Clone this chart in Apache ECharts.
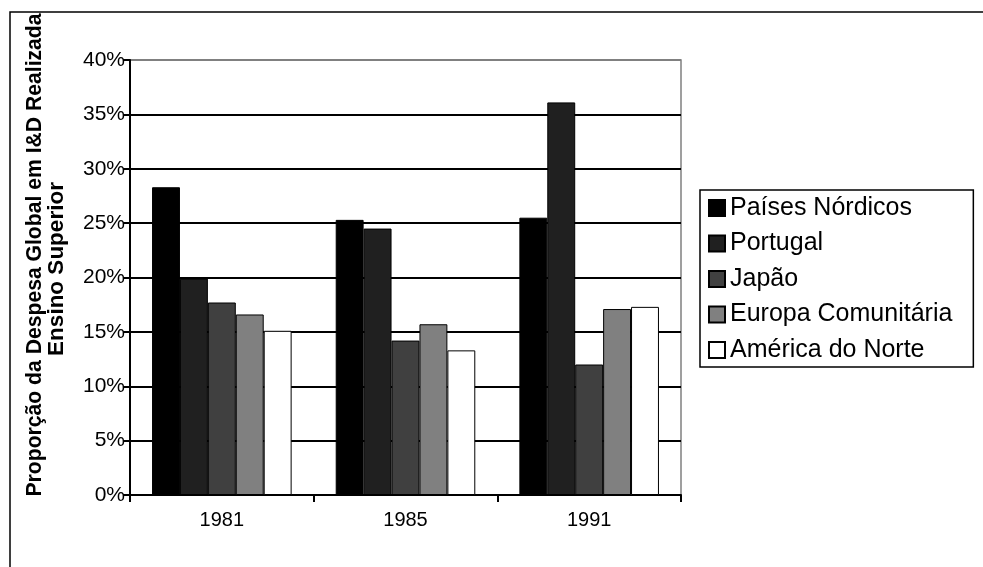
<!DOCTYPE html>
<html>
<head>
<meta charset="utf-8">
<script src="https://cdn.jsdelivr.net/npm/echarts@6/dist/echarts.min.js"></script>
<style>
html, body { margin: 0; padding: 0; background: #fff; }
#chart { width: 983px; height: 567px; }
</style>
</head>
<body>
<div id="chart"></div>
<script>
var categories = ['1981', '1985', '1991'];
var seriesNames = ['Países Nórdicos', 'Portugal', 'Japão', 'Europa Comunitária', 'América do Norte'];
var paisesNordicos = [28.3, 25.3, 25.5];
var portugal = [19.9, 24.5, 36.1];
var japao = [17.7, 14.2, 12.0];
var europaComunitaria = [16.6, 15.7, 17.1];
var americaDoNorte = [15.1, 13.3, 17.3];
var yTitleLine1 = 'Proporção da Despesa Global em I&D Realizada';
var yTitleLine2 = 'Ensino Superior';

var seriesValues = [paisesNordicos, portugal, japao, europaComunitaria, americaDoNorte];
var seriesColors = ['#000000', '#202020', '#404040', '#808080', '#ffffff'];
var FONT = "'Liberation Sans', Arial, sans-serif";

var chart = echarts.init(document.getElementById('chart'), null, { renderer: 'canvas' });

var series = seriesNames.map(function (name, i) {
  return {
    name: name,
    type: 'bar',
    data: seriesValues[i],
    barGap: '0%',
    barCategoryGap: '24%',
    itemStyle: { color: seriesColors[i], borderColor: '#000', borderWidth: 1 },
    emphasis: { disabled: true },
    animation: false
  };
});

var splitColors = ['#000', '#000', '#000', '#000', '#000', '#000', '#000', '#000', '#808080'];

chart.setOption({
  backgroundColor: '#fff',
  animation: false,
  textStyle: { fontFamily: FONT },
  grid: {
    left: 130, right: 302, top: 60, bottom: 72,
    show: true, borderColor: '#808080', borderWidth: 1.5, backgroundColor: 'transparent'
  },
  legend: {
    orient: 'vertical',
    left: 700, top: 190,
    padding: [5.5, 21, 4.5, 8],
    itemWidth: 16, itemHeight: 16,
    itemGap: 10.5,
    icon: 'rect',
    borderColor: '#000', borderWidth: 1.5,
    textStyle: { fontFamily: FONT, fontSize: 25, color: '#000', lineHeight: 25 },
    selectedMode: false,
    data: seriesNames
  },
  xAxis: {
    type: 'category',
    data: categories,
    axisLine: { lineStyle: { color: '#000', width: 2 } },
    axisTick: { show: true, alignWithLabel: false, length: 7, lineStyle: { color: '#000', width: 2 } },
    axisLabel: { fontFamily: FONT, fontSize: 20, color: '#000', margin: 15 },
    splitLine: { show: false }
  },
  yAxis: {
    type: 'value',
    min: 0, max: 40, interval: 5,
    axisLine: { show: true, lineStyle: { color: '#000', width: 2 } },
    axisTick: { show: true, length: 7, lineStyle: { color: '#000', width: 2 } },
    axisLabel: { fontFamily: FONT, fontSize: 21, color: '#000', margin: 5, formatter: '{value}%' },
    splitLine: { show: true, lineStyle: { color: splitColors, width: 2 } }
  },
  graphic: [
    {
      type: 'rect', silent: true,
      shape: { x: 10, y: 12, width: 1100, height: 700 },
      style: { fill: 'none', stroke: '#000', lineWidth: 1.5 },
      z: -1
    },
    {
      type: 'text', silent: true,
      x: 35, y: 255, rotation: Math.PI / 2, scaleX: 0.94,
      style: {
        text: yTitleLine1, fontFamily: FONT, fontSize: 22.5, fontWeight: 'bold',
        fill: '#000', align: 'center', verticalAlign: 'middle'
      }
    },
    {
      type: 'text', silent: true,
      x: 57, y: 269, rotation: Math.PI / 2,
      style: {
        text: yTitleLine2, fontFamily: FONT, fontSize: 22.5, fontWeight: 'bold',
        fill: '#000', align: 'center', verticalAlign: 'middle'
      }
    }
  ],
  series: series
});
</script>
</body>
</html>
